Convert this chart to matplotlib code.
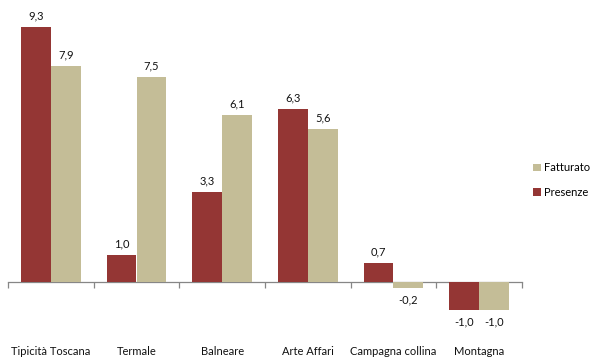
import matplotlib.pyplot as plt
import matplotlib.transforms as mtransforms
import numpy as np

categorie = ['Tipicità Toscana', 'Termale', 'Balneare', 'Arte Affari', 'Campagna collina', 'Montagna']
presenze = [9.3, 1.0, 3.3, 6.3, 0.7, -1.0]
fatturato = [7.9, 7.5, 6.1, 5.6, -0.2, -1.0]

col_pres = '#943634'
col_fatt = '#C4BD97'

plt.rcParams['font.family'] = ['Lato', 'DejaVu Sans']

fig = plt.figure(figsize=(5.94, 3.59), dpi=100)
ax = fig.add_axes([8 / 594, 22 / 359, 514 / 594, 329 / 359])

x = np.arange(len(categorie))
w = 0.35
b1 = ax.bar(x - w / 2, presenze, w, color=col_pres, label='Presenze', zorder=3)
b2 = ax.bar(x + w / 2, fatturato, w, color=col_fatt, label='Fatturato', zorder=3)

def etichette(bars, vals):
    for r, v in zip(bars, vals):
        cx = r.get_x() + r.get_width() / 2
        testo = f'{v:.1f}'.replace('.', ',')
        if v >= 0:
            ax.annotate(testo, (cx, v), xytext=(0, 4), textcoords='offset points',
                        ha='center', va='bottom', fontsize=8, color='#111111')
        else:
            ax.annotate(testo, (cx, v), xytext=(0, -5), textcoords='offset points',
                        ha='center', va='top', fontsize=8, color='#111111')

etichette(b1, presenze)
etichette(b2, fatturato)

ax.set_xlim(-0.5, len(categorie) - 0.5)
ax.set_ylim(-2, 10)

for s in ['top', 'right', 'left']:
    ax.spines[s].set_visible(False)
ax.spines['bottom'].set_position(('data', 0))
ax.spines['bottom'].set_color('#868686')
ax.spines['bottom'].set_linewidth(0.9)
ax.set_yticks([])

# tacche ai confini delle categorie, etichette in fondo al grafico
ax.set_xticks(np.arange(-0.5, len(categorie)), minor=False)
ax.set_xticklabels([])
ax.tick_params(axis='x', direction='out', length=4, color='#868686', width=0.9)

trans = mtransforms.blended_transform_factory(ax.transData, ax.transAxes)
for xi, nome in zip(x, categorie):
    ax.text(xi, -0.045, nome, transform=trans, ha='center', va='center',
            fontsize=8, color='#111111')

h, l = ax.get_legend_handles_labels()
fig.legend(h[::-1], l[::-1], loc='center left', bbox_to_anchor=(533 / 594, 1 - 180 / 359),
           frameon=False, fontsize=8, handlelength=0.7, handleheight=0.7,
           handletextpad=0.3, labelspacing=1.2, borderpad=0, borderaxespad=0)

fig.savefig('out.png', dpi=100)
